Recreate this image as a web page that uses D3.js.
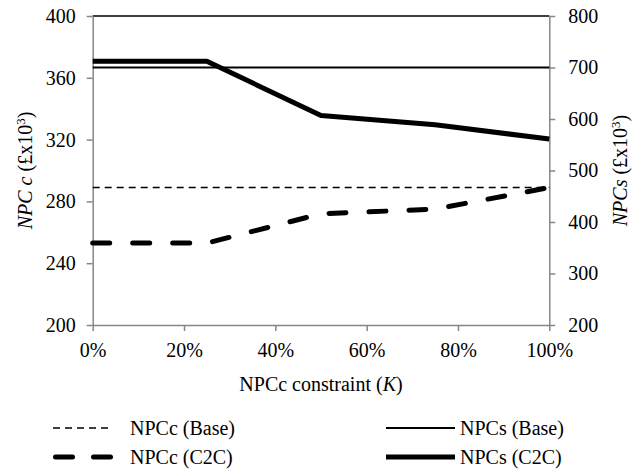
<!DOCTYPE html>
<html>
<head>
<meta charset="utf-8">
<script src="https://cdn.jsdelivr.net/npm/d3@7"></script>
<style>
  html, body { margin: 0; padding: 0; background: #fff; }
  svg.npc-chart text { font-family: "Liberation Serif", serif !important; }
</style>
</head>
<body>
<svg class="npc-chart" width="641" height="469"></svg>
<script>
// NPCc constraint levels (K)
const constraintK = [0, 0.25, 0.5, 0.75, 1];
// Left axis series (£x10^3)
const npccBase = [289, 289, 289, 289, 289];
const npccC2C = [253, 253, 272, 275, 289];
// Right axis series (£x10^3)
const npcsBase = [700, 700, 700, 700, 700];
const npcsC2C = [712, 712, 607, 589, 561];
// Tick values
const xTicks = [0, 0.2, 0.4, 0.6, 0.8, 1];
const leftTicks = [200, 240, 280, 320, 360, 400];
const rightTicks = [200, 300, 400, 500, 600, 700, 800];

const svg = d3.select("svg.npc-chart");
const plot = { left: 92.7, right: 549.3, top: 16, bottom: 325 };
const fontSize = 20;
const fontFamily = "Liberation Serif";
const axisGrey = "#868686";

const x = d3.scaleLinear().domain([0, 1]).range([plot.left, plot.right]);
const yL = d3.scaleLinear().domain([200, 400]).range([plot.bottom, plot.top]);
const yR = d3.scaleLinear().domain([200, 800]).range([plot.bottom, plot.top]);

function serifText(sel) {
  return sel
    .attr("font-family", fontFamily)
    .style("font-family", fontFamily, "important")
    .attr("font-size", fontSize)
    .attr("fill", "#000");
}

// Top border of plot area
svg.append("line")
  .attr("x1", plot.left).attr("x2", plot.right)
  .attr("y1", plot.top).attr("y2", plot.top)
  .attr("stroke", "#000").attr("stroke-width", 1.5);

function styleAxis(g) {
  g.attr("font-family", fontFamily).attr("font-size", fontSize);
  g.selectAll("path, line").attr("stroke", axisGrey).attr("stroke-width", 1.5);
  serifText(g.selectAll("text"));
}

svg.append("g")
  .attr("transform", `translate(${plot.left},0)`)
  .call(d3.axisLeft(yL).tickValues(leftTicks).tickSize(6).tickSizeOuter(0).tickPadding(11))
  .call(styleAxis);

svg.append("g")
  .attr("transform", `translate(${plot.right},0)`)
  .call(d3.axisRight(yR).tickValues(rightTicks).tickSize(6).tickSizeOuter(0).tickPadding(13))
  .call(styleAxis);

svg.append("g")
  .attr("transform", `translate(0,${plot.bottom})`)
  .call(d3.axisBottom(x).tickValues(xTicks).tickFormat(d3.format(".0%")).tickSize(6).tickSizeOuter(0).tickPadding(12))
  .call(styleAxis);

// Series definitions
const series = [
  { name: "NPCc (Base)", values: npccBase, y: yL, width: 1.5, dash: "7,5", cap: "butt" },
  { name: "NPCs (Base)", values: npcsBase, y: yR, width: 2.2, dash: null, cap: "butt" },
  { name: "NPCc (C2C)", values: npccC2C, y: yL, width: 5, dash: "17,23", cap: "round" },
  { name: "NPCs (C2C)", values: npcsC2C, y: yR, width: 5, dash: null, cap: "butt" }
];

series.forEach(s => {
  const line = d3.line().x((d, i) => x(constraintK[i])).y(d => s.y(d));
  svg.append("path")
    .datum(s.values)
    .attr("d", line)
    .attr("fill", "none")
    .attr("stroke", "#000")
    .attr("stroke-width", s.width)
    .attr("stroke-linecap", s.cap)
    .attr("stroke-linejoin", "round")
    .attr("stroke-dasharray", s.dash);
});

function addText(sel) {
  return serifText(sel.append("text"));
}

// Axis titles
const midY = (plot.top + plot.bottom) / 2;
const leftTitle = addText(svg)
  .attr("transform", `translate(32,${midY}) rotate(-90)`)
  .attr("text-anchor", "middle");
leftTitle.append("tspan").attr("font-style", "italic").text("NPC");
leftTitle.append("tspan").attr("font-style", "italic").attr("dx", 5).text("c");
leftTitle.append("tspan").attr("dx", 5).text("(£x10");
leftTitle.append("tspan").attr("font-size", 13).attr("dy", -7).text("3");
leftTitle.append("tspan").attr("dy", 7).text(")");

const rightTitle = addText(svg)
  .attr("transform", `translate(627,${midY}) rotate(-90)`)
  .attr("text-anchor", "middle");
rightTitle.append("tspan").attr("font-style", "italic").text("NPCs");
rightTitle.append("tspan").text(" (£x10");
rightTitle.append("tspan").attr("font-size", 13).attr("dy", -7).text("3");
rightTitle.append("tspan").attr("dy", 7).text(")");

const xTitle = addText(svg)
  .attr("x", (plot.left + plot.right) / 2)
  .attr("y", 391)
  .attr("text-anchor", "middle");
xTitle.append("tspan").text("NPCc constraint (");
xTitle.append("tspan").attr("font-style", "italic").text("K");
xTitle.append("tspan").text(")");

// Legend
const legendItems = [
  { s: series[0], x: 53, w: 59, tx: 130, y: 428 },
  { s: series[1], x: 386, w: 69, tx: 460, y: 428 },
  { s: series[2], x: 53, w: 59, tx: 130, y: 457 },
  { s: series[3], x: 386, w: 69, tx: 460, y: 457 }
];
legendItems.forEach(item => {
  const dash = item.s.name === "NPCc (C2C)" ? "17,21" : item.s.dash;
  svg.append("line")
    .attr("x1", item.x + (item.s.cap === "round" ? 2.5 : 0))
    .attr("x2", item.x + item.w)
    .attr("y1", item.y).attr("y2", item.y)
    .attr("stroke", "#000")
    .attr("stroke-width", item.s.width)
    .attr("stroke-linecap", item.s.cap)
    .attr("stroke-dasharray", dash);
  addText(svg)
    .attr("x", item.tx)
    .attr("y", item.y)
    .attr("dy", "0.33em")
    .text(item.s.name);
});
</script>
</body>
</html>
